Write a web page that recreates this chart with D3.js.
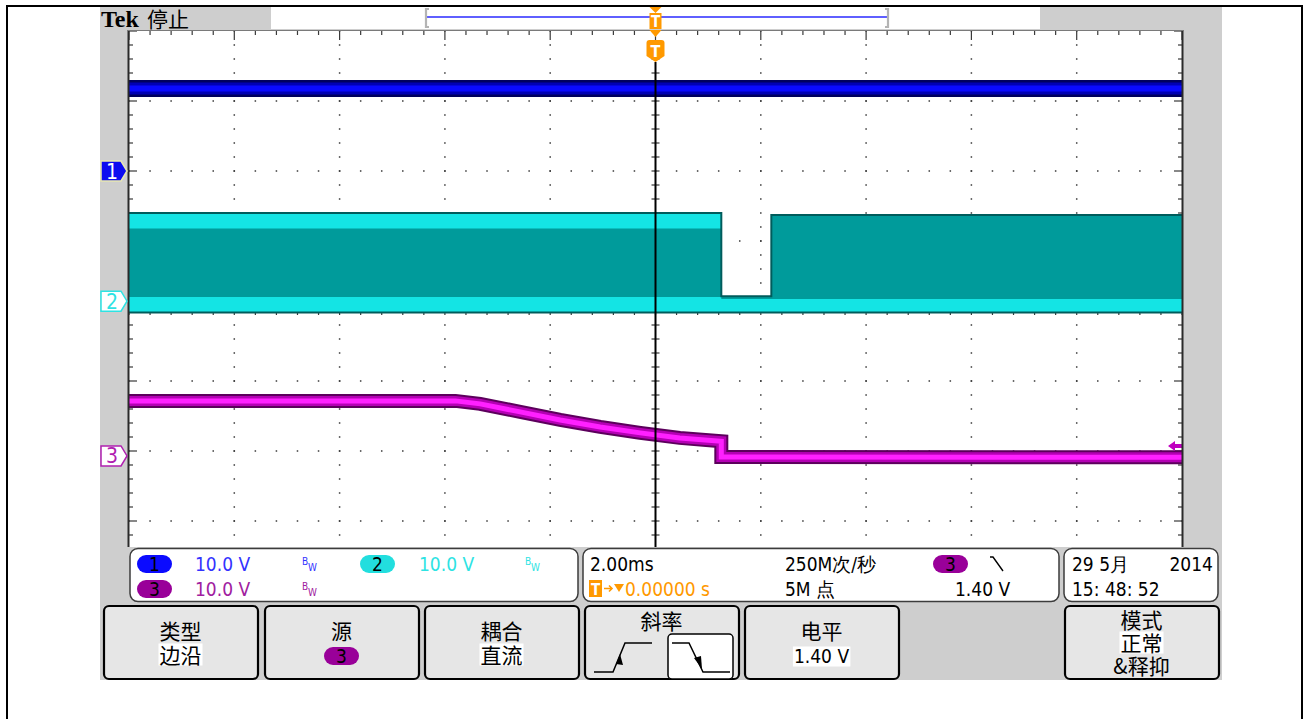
<!DOCTYPE html>
<html>
<head>
<meta charset="utf-8">
<script src="https://cdn.jsdelivr.net/npm/d3@7"></script>
<style>
  body { margin: 0; background: #fff; }
  svg { display: block; }
</style>
</head>
<body>
<svg id="scope" width="1309" height="719"></svg>
<script>
// ---- acquisition settings ----
const timeDomain = [-10, 10];          // ms, 2.00 ms/div, trigger at 0
const channelNames = ["1", "2", "3"];
const channelVoltsPerDiv = [10.0, 10.0, 10.0];
const channelOffsetDiv = [2.0, 0.14, -2.07];   // ground marker, divisions from centre
const triggerLevel = 1.40;                      // V on channel 3

// ---- channel 1: supply rail ----
const ch1Time = [-10, 10];
const ch1Volts = [11.8, 11.8];

// ---- channel 2: switching waveform (envelope + dwell bands) ----
const ch2Time = [-10, 1.25, 1.25, 2.2, 2.2, 10];
const ch2Max = [12.6, 12.6, 0.7, 0.7, 12.3, 12.3];
const ch2Min = [-1.6, -1.6, -1.6, -1.6, -1.6, -1.6];
const ch2LowTop = [0.6, 0.6, 0.3, 0.3, 0.3, 0.3];
const ch2HighTime = [-10, 1.25];
const ch2HighBottom = [10.4, 10.4];

// ---- channel 3: control voltage ----
const ch3Time = [-10, -3.8, -3.33, -2.57, -1.81, -1.05, -0.29, 0.46, 1.25, 1.25, 10];
const ch3Volts = [7.86, 7.86, 7.43, 6.29, 5.14, 4.14, 3.29, 2.57, 2.1, -0.15, -0.2];

// ---- readouts ----
const readoutTimebase = "2.00ms";
const readoutRate = "250M次/秒";
const readoutRecord = "5M 点";
const readoutTrigPos = "0.00000 s";
const readoutTrigLevel = "1.40 V";
const readoutDate = "29 5月";
const readoutYear = "2014";
const readoutClock = "15: 48: 52";
const menuButtons = [
  { title: "类型", value: "边沿" },
  { title: "源", value: "3" },
  { title: "耦合", value: "直流" },
  { title: "斜率", value: null },
  { title: "电平", value: "1.40 V" },
  null,
  { title: "模式", value: "正常", extra: "&释抑" }
];

const FONT = "'DejaVu Sans Condensed','DejaVu Sans',sans-serif";
const CJK = "'Noto Sans CJK SC','DejaVu Sans',sans-serif";
const COL = {
  ch1: "#3333ff", ch2: "#2ee3e3", ch3: "#a020a0", orange: "#ff9900",
  bezel: "#cecece", button: "#e6e6e6"
};

const svg = d3.select("#scope");

// scales: time (ms) -> px, divisions -> px
const x = d3.scaleLinear().domain(timeDomain).range([129, 1182]);
const y = d3.scaleLinear().domain([-4, 4]).range([591, 31]);
const vy = (ch, v) => y(channelOffsetDiv[ch] + v / channelVoltsPerDiv[ch]);
const PLOT_BOTTOM = 547;

// ---- frame & bezel ----
svg.append("rect").attr("width", 1309).attr("height", 719).attr("fill", "#fff");
svg.append("rect").attr("x", 7).attr("y", 6).attr("width", 1295).attr("height", 714)
  .attr("fill", "none").attr("stroke", "#000").attr("stroke-width", 2);
svg.append("rect").attr("x", 100).attr("y", 7).attr("width", 1122).attr("height", 673)
  .attr("fill", COL.bezel);
svg.append("rect").attr("x", 271).attr("y", 7).attr("width", 769).attr("height", 22)
  .attr("fill", "#fff");

// status text
svg.append("text").attr("x", 101).attr("y", 27)
  .attr("font-family", "'Liberation Serif',serif").attr("font-weight", "bold")
  .attr("font-size", 24).attr("fill", "#000").text("Tek");
svg.append("text").attr("x", 147).attr("y", 27)
  .attr("font-family", CJK).attr("font-size", 21).attr("fill", "#000").text("停止");

// record view bracket
const rv = svg.append("g");
rv.append("line").attr("x1", 427).attr("x2", 888).attr("y1", 17).attr("y2", 17)
  .attr("stroke", "#2a2aff").attr("stroke-width", 1.3);
[426, 888].forEach((bx, i) => {
  const d = i === 0 ? 3 : -3;
  rv.append("path").attr("d", `M${bx + d},9 H${bx} V27 H${bx + d}`)
    .attr("fill", "none").attr("stroke", "#b4b4b4").attr("stroke-width", 2.2);
});

// ---- plot area ----
svg.append("rect").attr("x", 129).attr("y", 31).attr("width", 1053).attr("height", PLOT_BOTTOM - 31)
  .attr("fill", "#fff");
svg.append("clipPath").attr("id", "plotClip").append("rect")
  .attr("x", 129).attr("y", 31).attr("width", 1053).attr("height", PLOT_BOTTOM - 31);
const plot = svg.append("g").attr("clip-path", "url(#plotClip)");

// graticule
const grid = plot.append("g").attr("fill", "#3a3a3a");
const minorT = d3.range(-10, 10.001, 0.4);
const minorD = d3.range(-4, 4.001, 0.2);
const majorT = d3.range(-8, 8.001, 2).filter(t => Math.abs(t) > 1e-6);
const majorD = d3.range(-3, 3.001, 1).filter(v => Math.abs(v) > 1e-6);
majorT.forEach(t => minorD.forEach(v => {
  grid.append("rect").attr("x", x(t) - 0.75).attr("y", y(v) - 0.75).attr("width", 1.5).attr("height", 1.5);
}));
majorD.forEach(v => minorT.forEach(t => {
  grid.append("rect").attr("x", x(t) - 0.75).attr("y", y(v) - 0.75).attr("width", 1.5).attr("height", 1.5);
}));
// centre cross ticks
minorD.forEach(v => grid.append("rect").attr("x", x(0) - 4).attr("y", y(v) - 0.6).attr("width", 8).attr("height", 1.2));
minorT.forEach(t => grid.append("rect").attr("x", x(t) - 0.6).attr("y", y(0) - 4).attr("width", 1.2).attr("height", 8));
// edge ticks
minorT.forEach(t => {
  const major = Math.abs(t / 2 - Math.round(t / 2)) < 1e-6;
  grid.append("rect").attr("x", x(t) - 0.6).attr("y", 31).attr("width", 1.2).attr("height", major ? 9 : 4);
});
minorD.forEach(v => {
  const major = Math.abs(v - Math.round(v)) < 1e-6;
  grid.append("rect").attr("x", 129).attr("y", y(v) - 0.6).attr("width", major ? 8 : 4).attr("height", 1.2);
  grid.append("rect").attr("x", 1182 - (major ? 8 : 4)).attr("y", y(v) - 0.6).attr("width", major ? 8 : 4).attr("height", 1.2);
});

// ---- traces ----
const lineOf = ch => d3.line().x(d => x(d[0])).y(d => vy(ch, d[1]));
function bandTrace(ch, pts, widths, colors) {
  widths.forEach((w, i) => {
    plot.append("path").attr("d", lineOf(ch)(pts)).attr("fill", "none")
      .attr("stroke", colors[i]).attr("stroke-width", w).attr("stroke-linejoin", "miter");
  });
}

// channel 1
bandTrace(0, ch1Time.map((t, i) => [t, ch1Volts[i]]), [17, 12, 6], ["#00005e", "#0000b4", "#0a0aff"]);

// channel 2
const ch2Pts = ch2Time.map((t, i) => ({ t, hi: ch2Max[i], lo: ch2Min[i], lt: ch2LowTop[i] }));
const area2 = (top, bot) => d3.area().x(d => x(d.t)).y0(d => vy(1, d[bot])).y1(d => vy(1, d[top]));
plot.append("path").attr("d", area2("hi", "lo")(ch2Pts)).attr("fill", "#009b9b");
plot.append("path").attr("d", area2("lt", "lo")(ch2Pts)).attr("fill", "#14e4e4");
const hiPts = ch2HighTime.map((t, i) => ({ t, hi: ch2Max[0], lo: ch2HighBottom[i] }));
plot.append("path").attr("d", area2("hi", "lo")(hiPts)).attr("fill", "#14e4e4");
plot.append("path").attr("d", d3.line().x(d => x(d.t)).y(d => vy(1, d.hi))(ch2Pts))
  .attr("fill", "none").attr("stroke", "#005c5c").attr("stroke-width", 2);
plot.append("path").attr("d", d3.line().x(d => x(d.t)).y(d => vy(1, d.lo))(ch2Pts))
  .attr("fill", "none").attr("stroke", "#005c5c").attr("stroke-width", 2);

// channel 3
bandTrace(2, ch3Time.map((t, i) => [t, ch3Volts[i]]), [14, 10, 5], ["#5c005c", "#b400b4", "#ff20ff"]);

// trigger time line
plot.append("line").attr("x1", x(0)).attr("x2", x(0)).attr("y1", 62).attr("y2", PLOT_BOTTOM)
  .attr("stroke", "#000").attr("stroke-width", 2);

// trigger level marker (ch3)
const tl = vy(2, triggerLevel);
plot.append("path").attr("d", `M1168,${tl} l7,-5 v3 h7 v4 h-7 v3 z`).attr("fill", "#c000c0");

// graticule border
svg.append("line").attr("x1", 128.5).attr("x2", 128.5).attr("y1", 30).attr("y2", PLOT_BOTTOM)
  .attr("stroke", "#2a2a2a").attr("stroke-width", 2);
svg.append("line").attr("x1", 1182.5).attr("x2", 1182.5).attr("y1", 30).attr("y2", PLOT_BOTTOM)
  .attr("stroke", "#2a2a2a").attr("stroke-width", 2);
svg.append("line").attr("x1", 128).attr("x2", 1183).attr("y1", 30.5).attr("y2", 30.5)
  .attr("stroke", "#7a7a7a").attr("stroke-width", 1);

// ---- T markers ----
const tx = x(0);
svg.append("path").attr("d", `M${tx - 6},7 h12 l-6,6 z`).attr("fill", COL.orange);
svg.append("rect").attr("x", tx - 6).attr("y", 13).attr("width", 12).attr("height", 16).attr("fill", COL.orange);
svg.append("text").attr("x", tx).attr("y", 27).attr("text-anchor", "middle").attr("font-family", FONT)
  .attr("font-weight", "bold").attr("font-size", 15).attr("fill", "#fff").text("T");
svg.append("path").attr("d", `M${tx - 6},30 h12 l-6,7 z`).attr("fill", COL.orange);
svg.append("path").attr("d", `M${tx - 9},43 q0,-3 3,-3 h12 q3,0 3,3 v13 l-9,6 l-9,-6 z`).attr("fill", COL.orange);
svg.append("text").attr("x", tx).attr("y", 57).attr("text-anchor", "middle").attr("font-family", FONT)
  .attr("font-weight", "bold").attr("font-size", 16).attr("fill", "#fff").text("T");

// ---- channel ground markers ----
const markerStyle = [
  { fill: "#0c0cf0", stroke: "#e8e8b0", text: "#fff" },
  { fill: "#fff", stroke: COL.ch2, text: COL.ch2 },
  { fill: "#fff", stroke: "#b020b0", text: "#b020b0" }
];
channelNames.forEach((n, i) => {
  const my = y(channelOffsetDiv[i]);
  const s = markerStyle[i];
  svg.append("path").attr("d", `M101,${my - 10} h20 l6,10 l-6,10 h-20 z`)
    .attr("fill", s.fill).attr("stroke", s.stroke).attr("stroke-width", 1.5);
  svg.append("text").attr("x", 112).attr("y", my + 7.5).attr("text-anchor", "middle")
    .attr("font-family", FONT).attr("font-size", 21).attr("fill", s.text).text(n);
});

// ---- readout panels ----
function panel(x0, w) {
  svg.append("rect").attr("x", x0).attr("y", 548.5).attr("width", w).attr("height", 53)
    .attr("rx", 8).attr("fill", "#fff").attr("stroke", "#3c3c3c").attr("stroke-width", 1.5);
}
function pill(cx, cy, fill, label) {
  svg.append("rect").attr("x", cx - 17.5).attr("y", cy - 9).attr("width", 35).attr("height", 18)
    .attr("rx", 9).attr("fill", fill);
  svg.append("text").attr("x", cx).attr("y", cy + 7).attr("text-anchor", "middle")
    .attr("font-family", FONT).attr("font-size", 19).attr("fill", "#000").text(label);
}
function txt(x0, y0, s, fill, opts = {}) {
  return svg.append("text").attr("x", x0).attr("y", y0).attr("font-family", opts.family || FONT)
    .attr("font-size", opts.size || 19).attr("fill", fill)
    .attr("text-anchor", opts.anchor || "start").text(s);
}
function bw(x0, y0, fill) {
  txt(x0, y0 - 2, "B", fill, { size: 10 });
  txt(x0 + 6, y0 + 4, "W", fill, { size: 10 });
}
panel(130, 448);
panel(583, 476);
panel(1064, 154);

const chColors = [COL.ch1, COL.ch2, COL.ch3];
const pillColors = ["#0b0bff", "#22dede", "#990099"];
const chRows = [[154.5, 564, 195, 302], [377.5, 564, 419, 525], [154.5, 589, 195, 302]];
chRows.forEach((r, i) => {
  pill(r[0], r[1], pillColors[i], channelNames[i]);
  txt(r[2], r[1] + 7, channelVoltsPerDiv[i].toFixed(1) + " V", chColors[i]);
  bw(r[3], r[1] + 3, chColors[i]);
});

txt(590, 571, readoutTimebase, "#000");
txt(785, 571, readoutRate, "#000");
pill(950.5, 564, "#990099", "3");
svg.append("path").attr("d", "M990,557 h3 l10,14").attr("fill", "none").attr("stroke", "#000").attr("stroke-width", 1.4);
svg.append("rect").attr("x", 589).attr("y", 580).attr("width", 13).attr("height", 17).attr("fill", COL.orange);
txt(595.5, 595, "T", "#fff", { size: 15, anchor: "middle" }).attr("font-weight", "bold");
svg.append("path").attr("d", "M604,588.5 h8 m-3,-3 l3,3 l-3,3").attr("fill", "none")
  .attr("stroke", COL.orange).attr("stroke-width", 1.6);
svg.append("path").attr("d", "M614,584 h10 l-5,8 z").attr("fill", COL.orange);
txt(625, 596, readoutTrigPos, COL.orange);
txt(785, 596, readoutRecord, "#000");
txt(955, 596, readoutTrigLevel, "#000");
txt(1072, 571, readoutDate, "#000");
txt(1213, 571, readoutYear, "#000", { anchor: "end" });
txt(1072, 596, readoutClock, "#000");

// ---- menu buttons ----
const btnX = [103, 264, 424, 584, 744, 904, 1064];
function highlighted(cx, by, s, fill, opts) {
  const t = txt(cx, by, s, fill, opts);
  const bb = t.node().getBBox();
  const pad = (bb.height - (opts.size || 19)) / 2;
  svg.insert("rect", () => t.node()).attr("x", bb.x - 1).attr("y", bb.y + pad).attr("width", bb.width + 2)
    .attr("height", bb.height - 2 * pad + 1).attr("fill", "#fff");
  return t;
}
menuButtons.forEach((b, i) => {
  if (!b) return;
  const x0 = btnX[i], cx = x0 + 77.5;
  svg.append("rect").attr("x", x0 + 1).attr("y", 606).attr("width", 154).attr("height", 73)
    .attr("rx", 5).attr("fill", COL.button).attr("stroke", "#000").attr("stroke-width", 2.2);
  const cjk = { family: CJK, size: 21, anchor: "middle" };
  if (b.extra) {
    txt(cx, 628, b.title, "#000", cjk);
    highlighted(cx, 651, b.value, "#000", cjk);
    txt(cx, 674, b.extra, "#000", cjk);
  } else if (b.value === null) {
    txt(cx, 629, b.title, "#000", cjk);
    // rising / falling slope icons, falling one selected
    svg.append("rect").attr("x", x0 + 84).attr("y", 634).attr("width", 65).attr("height", 45)
      .attr("rx", 4).attr("fill", "#fff").attr("stroke", "#000").attr("stroke-width", 1.5);
    const g = svg.append("g").attr("fill", "none").attr("stroke", "#000").attr("stroke-width", 1.5);
    g.append("path").attr("d", `M${x0 + 10},672 H${x0 + 29} L${x0 + 41},643 H${x0 + 68}`);
    g.append("path").attr("d", `M${x0 + 88},643 H${x0 + 105} L${x0 + 119},672 H${x0 + 146}`);
    svg.append("path").attr("d", `M${x0 + 32},664 l4,-10 l3,11 z`).attr("fill", "#000");
    svg.append("path").attr("d", `M${x0 + 110},658 l8,11 l-1,-13 z`).attr("fill", "#000");
  } else if (i === 1) {
    txt(cx, 639, b.title, "#000", cjk);
    pill(cx, 656, "#990099", b.value);
  } else if (i === 4) {
    txt(cx, 639, b.title, "#000", cjk);
    highlighted(cx, 663, b.value, "#000", { size: 19, anchor: "middle" });
  } else {
    txt(cx, 639, b.title, "#000", cjk);
    highlighted(cx, 663, b.value, "#000", cjk);
  }
});
</script>
</body>
</html>
